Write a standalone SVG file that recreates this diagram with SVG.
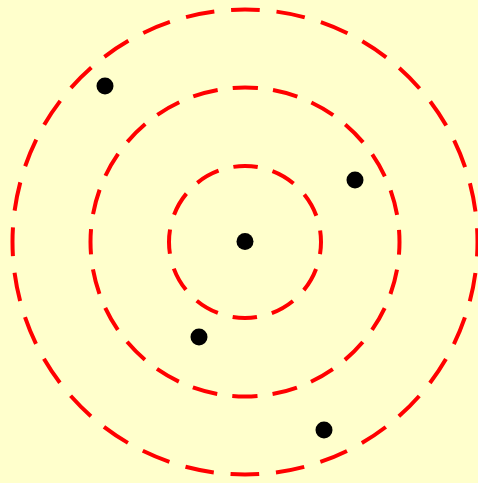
<svg xmlns="http://www.w3.org/2000/svg" width="478" height="483" viewBox="0 0 478 483">
<style>
.ring{fill:none;stroke:#ff0000;stroke-width:4}
.dot{fill:#000000}
</style>
<rect x="0" y="0" width="478" height="483" fill="#ffffcc"/>
<g id="rings">
<circle id="ring1" class="ring" cx="245" cy="242" r="76" stroke-dasharray="24.5 15.29" stroke-dashoffset="12.25"/>
<circle id="ring2" class="ring" cx="245" cy="242" r="154.5" stroke-dasharray="25.28 15.17" stroke-dashoffset="12.64"/>
<circle id="ring3" class="ring" cx="245" cy="242" r="232.5" stroke-dasharray="28.8 16.85" stroke-dashoffset="14.4"/>
</g>
<g id="p0"><circle class="dot" cx="245" cy="241.5" r="8.5"/></g>
<g id="p1"><circle class="dot" cx="105" cy="86" r="8.5"/></g>
<g id="p2"><circle class="dot" cx="355" cy="180" r="8.5"/></g>
<g id="p3"><circle class="dot" cx="199" cy="337" r="8.5"/></g>
<g id="p4"><circle class="dot" cx="324" cy="430" r="8.5"/></g>
</svg>
